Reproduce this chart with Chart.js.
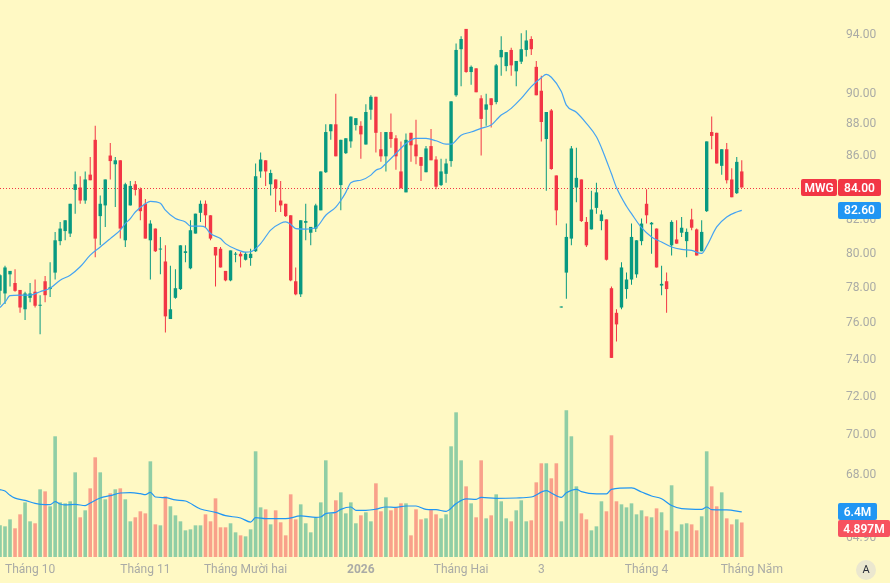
<!DOCTYPE html>
<html>
<head>
<meta charset="utf-8">
<title>MWG</title>
<script src="https://cdn.jsdelivr.net/npm/chart.js@4.4.1/dist/chart.umd.min.js"></script>
<style>
  html, body { margin: 0; padding: 0; background: #fff9c4; }
  #wrap { width: 890px; height: 583px; }
</style>
</head>
<body>
<div id="wrap"><canvas id="priceChart" width="890" height="583"></canvas></div>
<script>
// Daily candles, oldest first (thousand VND)
const opens = [77.85,77.7,78.8,78.3,77.9,76.8,77.45,77.8,77.0,78.4,
  77.95,78.9,80.75,81.35,81.2,83.85,84.0,83.2,84.8,87.0,
  82.25,82.9,86.0,85.45,85.7,80.8,82.9,84.2,83.9,83.0,
  80.8,81.5,80.25,79.55,76.25,77.45,77.95,80.05,79.15,81.2,
  82.45,83.0,82.3,80.4,80.3,79.0,78.45,79.95,80.0,79.65,
  79.75,80.15,85.0,85.7,84.2,84.5,83.2,83.0,82.3,78.4,
  77.65,81.85,81.25,81.5,82.6,84.95,87.55,88.0,84.15,86.15,
  86.9,87.95,87.9,86.7,88.95,89.8,86.4,85.95,87.5,87.1,
  85.0,83.7,87.45,86.7,85.9,84.95,86.6,85.75,84.15,84.85,
  85.65,89.9,93.0,94.4,91.45,91.7,89.7,88.95,89.7,89.45,
  92.45,91.85,92.95,91.5,92.15,92.95,93.7,91.8,90.2,87.05,
  88.9,84.75,76.9,78.9,80.9,84.0,84.5,81.9,81.45,82.75,
  81.95,82.05,78.0,76.6,76.9,77.95,78.5,78.8,80.75,83.0,
  81.75,81.5,78.15,78.4,80.5,80.85,81.25,80.75,82.05,81.45,
  80.15,82.55,87.5,87.45,85.35,86.4,84.5,83.65,85.0];
const highs = [78.8,79.3,79.0,79.1,77.9,77.8,78.3,78.5,77.6,78.7,
  79.5,81.3,81.9,82.0,83.0,85.0,84.7,85.0,85.9,87.9,
  83.5,84.5,86.8,85.9,85.7,84.3,84.4,84.4,84.0,83.3,
  82.0,81.5,81.0,80.5,79.3,79.1,80.5,80.5,82.0,82.4,
  83.2,83.2,82.3,80.4,80.4,79.0,80.2,80.1,80.1,80.1,
  80.3,85.5,86.2,85.7,85.1,84.5,84.4,83.0,82.3,79.2,
  82.0,83.0,81.6,83.0,85.0,88.0,88.0,90.0,87.0,87.1,
  88.5,88.4,88.2,89.3,89.9,89.8,87.5,87.5,88.7,87.3,
  86.9,87.4,87.45,88.3,85.9,86.6,87.7,85.95,85.8,85.8,
  89.5,93.4,93.9,94.4,91.9,91.7,89.9,90.0,89.7,92.0,
  93.9,92.8,93.1,92.2,94.1,94.3,93.9,92.2,91.2,88.8,
  89.0,84.75,76.95,81.8,86.6,86.5,84.5,82.2,83.8,84.3,
  82.6,82.05,78.1,76.8,79.5,78.9,81.8,80.8,82.1,83.9,
  81.9,81.5,79.3,78.9,82.0,82.0,82.2,81.5,82.7,81.5,
  82.0,86.9,88.5,87.45,86.4,86.8,85.2,85.9,85.7];
const lows = [77.05,77.1,78.1,77.8,76.6,76.2,77.2,76.9,75.4,77.2,
  77.5,78.5,80.5,80.8,81.0,82.4,83.0,83.0,84.45,79.8,
  80.5,81.6,84.5,82.8,80.9,80.4,82.9,83.5,82.0,80.9,
  78.5,80.1,78.8,75.5,76.25,77.4,77.9,79.5,79.1,81.2,
  81.9,81.6,80.8,78.1,79.2,78.4,78.4,79.5,79.2,79.6,
  79.3,80.1,84.6,84.1,83.5,82.5,82.5,82.2,78.4,77.6,
  77.5,80.8,80.5,81.3,82.6,84.9,87.0,85.95,82.6,86.1,
  86.5,87.6,85.8,86.7,88.3,86.2,85.6,85.0,86.5,85.1,
  83.95,83.7,85.6,85.45,84.4,84.95,85.7,83.9,84.1,84.3,
  85.3,89.8,90.5,91.4,90.6,90.1,86.0,87.9,87.8,89.3,
  91.2,91.5,91.2,90.5,92.0,92.5,92.6,89.9,86.9,83.8,
  85.1,81.7,76.9,77.4,80.5,83.1,81.9,80.4,81.45,82.4,
  81.4,79.6,74.1,75.0,76.8,77.4,78.2,78.6,80.5,81.8,
  80.0,79.2,77.6,76.6,79.9,80.6,81.0,79.8,81.4,79.9,
  80.15,82.5,86.4,85.5,84.8,84.25,83.4,83.6,84.0];
const closes = [78.75,79.2,79.0,77.85,76.9,77.7,77.7,77.0,77.05,77.6,
  78.05,80.8,81.5,82.0,83.0,84.2,83.2,84.5,84.45,80.9,
  83.0,84.5,85.65,85.7,81.5,84.2,84.1,83.85,82.55,80.9,
  81.8,80.15,80.3,76.4,76.8,78.0,80.5,80.15,81.4,82.4,
  83.0,82.3,80.9,79.9,79.2,78.45,80.2,80.0,79.85,80.0,
  80.0,84.7,85.75,85.0,84.9,83.95,82.9,82.25,78.45,77.65,
  82.0,81.95,81.6,82.9,85.0,87.5,88.0,85.95,87.0,87.1,
  88.5,88.4,87.35,88.8,89.8,87.45,85.95,87.5,87.05,85.95,
  83.95,87.0,86.65,85.95,85.35,86.45,85.7,84.05,85.0,85.5,
  89.5,92.95,93.7,91.45,91.8,90.1,88.35,89.3,89.25,91.9,
  92.95,92.8,91.9,92.2,93.0,93.6,93.0,89.9,88.15,88.8,
  85.15,82.6,76.95,81.0,86.45,84.6,81.95,80.5,82.65,83.7,
  82.35,79.65,74.1,75.95,79.2,78.5,81.0,80.8,81.8,82.3,
  81.85,79.2,78.25,77.95,81.9,80.6,81.55,81.3,81.55,79.9,
  81.3,86.9,87.25,85.5,86.4,84.45,83.4,85.6,84.0];
// volume in millions of shares
const volumes = [4.49,4.35,5.34,4.07,6.05,7.75,5.06,4.78,9.6,9.31,
  7.19,17.12,7.75,7.61,7.9,12.01,5.63,6.62,9.74,14.14,
  12.01,8.18,9.03,9.6,9.74,8.18,5.06,5.63,6.48,6.19,
  13.57,4.63,4.49,8.61,7.19,5.91,5.06,3.78,3.92,4.49,
  4.49,6.05,5.06,8.32,4.21,4.21,4.78,3.5,3.07,2.93,
  3.92,14.99,7.04,6.76,4.63,6.62,4.92,3.07,8.89,5.34,
  7.47,4.78,3.5,5.63,7.75,13.71,6.19,8.04,9.17,6.19,
  7.75,4.78,5.91,6.34,5.06,10.45,6.48,8.46,6.62,7.0,
  7.61,7.61,3.07,6.76,5.34,5.48,6.76,6.05,5.48,6.05,
  15.7,20.52,13.71,10.02,7.61,5.63,13.71,5.48,5.91,8.89,
  7.9,5.48,5.06,6.62,8.04,5.06,5.2,10.59,13.29,13.29,
  11.16,13.29,5.06,20.8,17.12,10.02,6.19,5.34,3.78,4.35,
  7.9,6.48,17.26,7.9,7.47,7.04,7.61,6.05,6.62,5.77,
  5.63,6.9,6.34,3.78,10.17,3.64,4.63,4.78,4.63,3.78,
  5.77,14.99,10.02,7.19,9.17,5.48,4.63,5.34,4.897];

// moving average of price at these candle indexes
const maIdx = [0,1,2,4,6,8,10,12,14,16,18,20,22,24,25,26,27,29,30,32,
  33,35,37,38,40,41,42,44,45,47,49,50,52,54,56,57,58,59,61,63,
  65,67,68,69,70,72,74,75,76,77,79,81,83,85,87,89,90,92,94,96,
  98,99,100,101,102,104,106,108,109,110,112,113,115,117,119,120,122,123,125,126,
  128,130,132,134,136,138,140,141,143,145,147,148];
const maVal = [76.9,77.2,77.57,77.6,77.6,77.8,78.0,78.46,78.75,79.24,79.92,80.4,80.9,81.41,81.8,82.1,82.5,83.0,83.15,83.03,
  82.61,82.1,81.9,81.65,81.65,81.57,81.2,80.9,80.6,80.28,80.1,80.12,80.6,81.41,81.82,81.9,81.75,81.5,81.47,81.55,
  82.3,82.8,83.2,83.7,84.3,84.45,84.77,85.08,85.2,85.5,86.13,86.77,87.09,87.09,86.94,86.72,86.72,87.3,87.5,87.74,
  87.95,88.27,88.6,88.8,89.04,89.69,90.47,91.07,91.29,91.1,90.15,89.25,88.78,88.06,87.2,86.5,84.85,84.0,82.85,82.4,
  81.55,81.0,80.7,80.4,80.26,80.2,80.02,80.45,81.6,82.2,82.5,82.6];

// moving average of volume (millions)
const volMaIdx = [0,1,2,3,5,7,9,10,11,12,13,15,17,18,20,22,24,26,28,29,
  30,31,33,35,37,40,43,45,48,50,51,53,57,60,63,64,65,67,68,70,
  71,73,75,77,79,81,83,85,87,89,91,93,95,96,99,103,106,109,110,112,
  113,115,116,119,121,122,126,128,130,132,134,136,140,141,142,145,148];
const volMaVal = [9.55,9.36,8.75,8.35,8.04,7.6,7.42,7.42,7.85,7.52,7.38,7.47,7.28,7.66,8.37,8.7,9.08,9.13,8.98,8.84,
  9.17,8.51,8.42,8.09,7.94,6.81,6.34,5.86,5.53,4.96,5.58,5.44,5.44,5.82,5.63,5.67,6.15,6.34,6.76,7.09,
  6.62,6.62,6.78,7.09,7.04,7.23,7.23,6.76,6.71,6.48,7.57,8.23,8.18,8.46,8.32,8.37,8.51,9.41,9.08,8.46,
  9.1,9.6,9.27,8.94,8.94,9.6,9.79,9.22,8.65,8.27,7.3,6.86,6.76,7.09,6.71,6.67,6.4];

// x axis month labels and where they sit
const monthIdx = [6, 29, 49, 72, 92, 108, 129, 150];
const monthNames = ['Tháng 10', 'Tháng 11', 'Tháng Mười hai', '2026', 'Tháng Hai', '3', 'Tháng 4', 'Tháng Năm'];
const priceTicks = [94, 90, 88, 86, 84, 82, 80, 78, 76, 74, 72, 70, 68, 66, 64.9];

const symbol = 'MWG';
const nSlots = 168; // candles + empty space on the right

const bgColor = '#fff9c4';
const upColor = '#089981';
const downColor = '#f23645';
const upVol = 'rgba(8, 153, 129, 0.45)';
const downVol = 'rgba(242, 54, 69, 0.45)';
const maColor = '#45a3f2';
const blue = '#2196f3';
const axisText = '#aaaba6';
const fontFamily = 'Roboto, "Liberation Sans", sans-serif';

function sparse(idx, vals) {
  const arr = new Array(nSlots).fill(null);
  idx.forEach((k, j) => { arr[k] = vals[j]; });
  return arr;
}

const slots = Array.from({ length: nSlots }, (_, i) => String(i));
const isUp = closes.map((c, i) => c >= opens[i]);
const bodies = opens.map((o, i) => [o, closes[i]]);
const wicks = lows.map((l, i) => [l, highs[i]]);
const candleColors = isUp.map(u => u ? upColor : downColor);
const volColors = isUp.map(u => u ? upVol : downVol);

function tag(ctx, x, yc, w, text, color) {
  const h = 17;
  ctx.fillStyle = color;
  ctx.beginPath();
  ctx.roundRect(x, Math.round(yc - h / 2), w, h, 2);
  ctx.fill();
  ctx.fillStyle = '#ffffff';
  ctx.font = '600 12px ' + fontFamily;
  ctx.textAlign = 'center';
  ctx.textBaseline = 'middle';
  ctx.fillText(text, x + w / 2, Math.round(yc) + 0.5);
}

// background, last price line and the value tags on the right
const sidePanel = {
  id: 'sidePanel',
  beforeDraw(chart) {
    const c = chart.ctx;
    c.save();
    c.fillStyle = bgColor;
    c.fillRect(0, 0, chart.width, chart.height);
    c.restore();
  },
  beforeDatasetsDraw(chart) {
    const c = chart.ctx;
    const area = chart.chartArea;
    const y = Math.round(chart.scales.y.getPixelForValue(closes[closes.length - 1])) + 0.5;
    c.save();
    c.strokeStyle = downColor;
    c.lineWidth = 1;
    c.setLineDash([1, 2]);
    c.beginPath();
    c.moveTo(area.left, y);
    c.lineTo(area.right - 37, y);
    c.stroke();
    c.restore();
  },
  afterDraw(chart) {
    const c = chart.ctx;
    const right = chart.chartArea.right;
    const last = closes.length - 1;
    const yP = chart.scales.y.getPixelForValue(closes[last]);
    const yMa = chart.scales.y.getPixelForValue(maVal[maVal.length - 1]);
    const yVm = chart.scales.yVol.getPixelForValue(volMaVal[volMaVal.length - 1]);
    const yV = Math.max(chart.scales.yVol.getPixelForValue(volumes[last]), yVm + 17);
    c.save();
    tag(c, right - 36, yP, 36, symbol, downColor);
    tag(c, right + 1, yP, 43, closes[last].toFixed(2), downColor);
    tag(c, right + 1, yMa, 43, maVal[maVal.length - 1].toFixed(2), blue);
    tag(c, right + 1, yVm, 39, volMaVal[volMaVal.length - 1] + 'M', blue);
    tag(c, right + 1, yV, 52, volumes[last] + 'M', '#f7525f');
    // auto-scale button
    c.fillStyle = '#ebe7cf';
    c.beginPath();
    c.arc(866, 570, 10, 0, Math.PI * 2);
    c.fill();
    c.fillStyle = '#2a2e39';
    c.font = '11px ' + fontFamily;
    c.textAlign = 'center';
    c.textBaseline = 'middle';
    c.fillText('A', 866, 570.5);
    c.restore();
  }
};

new Chart(document.getElementById('priceChart'), {
  type: 'bar',
  data: {
    labels: slots,
    datasets: [
      {
        type: 'line', label: 'MA', yAxisID: 'y', order: 1,
        data: sparse(maIdx, maVal), spanGaps: true,
        borderColor: maColor, borderWidth: 1.2, pointRadius: 0,
        cubicInterpolationMode: 'monotone'
      },
      {
        label: 'body', yAxisID: 'y', order: 2, grouped: false,
        data: bodies, backgroundColor: candleColors,
        maxBarThickness: 3.4, minBarLength: 1
      },
      {
        label: 'wick', yAxisID: 'y', order: 3, grouped: false,
        data: wicks, backgroundColor: candleColors,
        maxBarThickness: 1, minBarLength: 1
      },
      {
        type: 'line', label: 'Vol MA', yAxisID: 'yVol', order: 4,
        data: sparse(volMaIdx, volMaVal), spanGaps: true,
        borderColor: blue, borderWidth: 1.2, pointRadius: 0,
        cubicInterpolationMode: 'monotone'
      },
      {
        label: 'Volume', yAxisID: 'yVol', order: 5, grouped: false,
        data: volumes, backgroundColor: volColors,
        maxBarThickness: 3.7
      }
    ]
  },
  options: {
    responsive: false,
    animation: false,
    devicePixelRatio: 1,
    layout: { padding: 0 },
    plugins: {
      legend: { display: false },
      tooltip: { enabled: false }
    },
    scales: {
      x: {
        offset: false,
        grid: { display: false, drawTicks: false, offset: false },
        border: { display: false },
        ticks: {
          autoSkip: false, maxRotation: 0, minRotation: 0, padding: 6,
          color: axisText,
          font: ctx => ({ family: fontFamily, size: 12, weight: ctx.tick && ctx.tick.label === '2026' ? 'bold' : 'normal' }),
          callback: (v, i) => {
            const j = monthIdx.indexOf(i);
            return j >= 0 ? monthNames[j] : '';
          }
        },
        afterFit: s => { s.height = 26; s.paddingLeft = 0; s.paddingRight = 0; }
      },
      y: {
        type: 'logarithmic', position: 'right', min: 64, max: 96.43,
        grid: { display: false, drawTicks: false },
        border: { display: false },
        afterBuildTicks: s => { s.ticks = priceTicks.map(v => ({ value: v })); },
        ticks: {
          color: axisText, padding: 9,
          font: { family: fontFamily, size: 12 },
          callback: v => Number(v).toFixed(2)
        },
        afterFit: s => { s.width = 53; s.paddingTop = 0; s.paddingBottom = 0; }
      },
      yVol: { display: false, min: 0, max: 79 }
    }
  },
  plugins: [sidePanel]
});
</script>
</body>
</html>
